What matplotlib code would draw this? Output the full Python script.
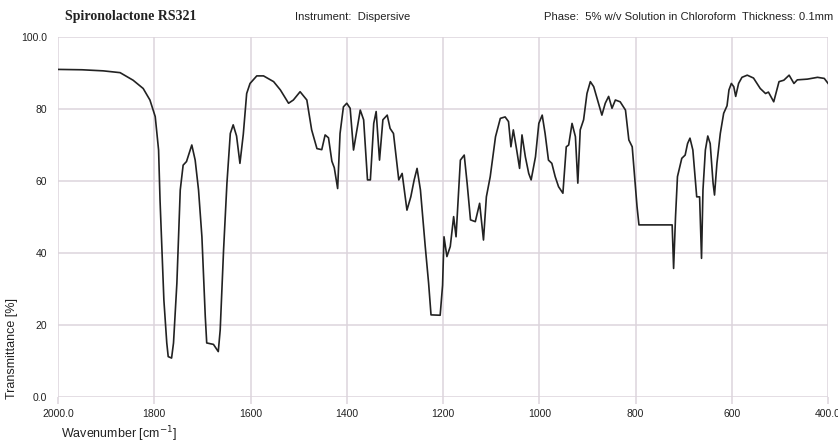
"""IR transmission spectrum of spironolactone RS321 (dispersive, CHCl3 solution)."""

import matplotlib
matplotlib.use("Agg")
import matplotlib.pyplot as plt
import numpy as np

GRID = "#dcd4dc"
INK = "#222222"

# Spectrum trace: wavenumber (cm^-1) and transmittance (%)
wavenumber = [
    2000, 1950, 1906, 1871, 1844, 1823, 1809, 1798, 1791, 1788, 1784, 1780,
    1774, 1771, 1764, 1760, 1753, 1746, 1740, 1733, 1722, 1715, 1708, 1701,
    1694, 1691, 1677, 1667, 1663, 1656, 1649, 1642, 1636, 1629, 1622, 1615,
    1608, 1601, 1587, 1573, 1552, 1538, 1521, 1511, 1497, 1483, 1473, 1462,
    1452, 1445, 1438, 1431, 1426, 1419, 1414, 1407, 1400, 1393, 1386, 1379,
    1372, 1365, 1357, 1351, 1344, 1339, 1332, 1325, 1316, 1310, 1303, 1292,
    1285, 1275, 1267, 1260, 1254, 1247, 1237, 1230, 1225, 1206, 1201, 1198,
    1192, 1185, 1178, 1173, 1164, 1156, 1150, 1143, 1133, 1124, 1116, 1110,
    1102, 1091, 1081, 1071, 1064, 1059, 1054, 1047, 1041, 1036, 1029, 1022,
    1017, 1008, 1001, 994, 988, 981, 974, 967, 960, 951, 944, 939,
    932, 925, 920, 915, 908, 901, 894, 887, 877, 870, 863, 856,
    849, 842, 832, 821, 814, 807, 802, 797, 793, 724, 721, 717,
    713, 704, 697, 692, 687, 681, 673, 667, 663, 660, 655, 650,
    645, 639, 636, 631, 624, 617, 610, 606, 601, 596, 592, 586,
    579, 568, 555, 541, 530, 524, 513, 502, 492, 481, 471, 464,
    443, 422, 408, 400,
]
transmittance = [
    91.0, 90.9, 90.6, 90.1, 88.0, 85.7, 82.5, 77.9, 68.6, 54.7, 40.8, 26.9,
    15.0, 11.2, 10.8, 15.0, 31.6, 57.5, 64.4, 65.4, 70.0, 65.8, 57.5, 44.5,
    22.3, 15.0, 14.6, 12.6, 18.6, 40.8, 59.4, 73.2, 75.6, 72.5, 64.9, 73.0,
    84.3, 87.1, 89.2, 89.2, 87.6, 85.3, 81.6, 82.5, 84.8, 82.5, 74.2, 69.0,
    68.7, 72.8, 72.0, 65.5, 63.7, 57.9, 73.2, 80.6, 81.6, 80.2, 68.6, 74.2,
    79.7, 77.0, 60.3, 60.3, 76.0, 79.3, 65.8, 77.0, 78.3, 74.6, 73.2, 60.3,
    62.1, 51.9, 55.6, 60.3, 63.5, 57.5, 41.8, 31.6, 22.8, 22.7, 31.0, 44.5,
    39.0, 41.8, 50.1, 44.5, 65.8, 67.2, 59.4, 49.2, 48.7, 53.8, 43.6, 55.6,
    61.2, 72.3, 77.4, 77.8, 76.5, 69.5, 74.2, 68.6, 63.5, 72.8, 66.7, 62.1,
    60.3, 66.7, 76.0, 78.3, 73.2, 65.8, 64.9, 61.2, 58.4, 56.6, 69.5, 70.0,
    76.0, 72.3, 59.4, 74.2, 77.0, 84.3, 87.6, 86.2, 81.6, 78.3, 81.6, 83.5,
    80.2, 82.5, 82.0, 79.7, 71.4, 69.5, 61.2, 52.9, 47.8, 47.8, 35.7, 50.1,
    61.2, 66.3, 67.2, 70.4, 71.9, 68.6, 55.6, 55.6, 38.5, 57.5, 68.6, 72.5,
    70.4, 59.4, 56.1, 64.9, 73.2, 78.8, 80.9, 85.3, 87.1, 86.2, 83.5, 87.1,
    88.8, 89.4, 88.6, 85.7, 84.3, 84.7, 82.0, 87.6, 88.0, 89.4, 87.1, 88.1,
    88.3, 88.8, 88.5, 87.1,
]

x_ticks = [2000, 1800, 1600, 1400, 1200, 1000, 800, 600, 400]
x_labels = ["2000.0", "1800", "1600", "1400", "1200", "1000", "800", "600", "400.0"]
y_ticks = [0, 20, 40, 60, 80, 100]
y_labels = ["0.0", "20", "40", "60", "80", "100.0"]

plt.rcParams.update({"font.family": ["Liberation Sans", "DejaVu Sans"], "font.size": 7.5})

fig = plt.figure(figsize=(8.38, 4.46), dpi=100)
ax = fig.add_axes([0.0692, 0.110, 0.919, 0.807])

ax.plot(wavenumber, transmittance, color=INK, linewidth=1.2, zorder=3)

ax.set_xlim(2000, 400)
ax.set_ylim(0, 100)
ax.set_xticks(x_ticks, x_labels)
ax.set_yticks(y_ticks, y_labels)
ax.grid(True, color=GRID, linewidth=1.1)
for s in ax.spines.values():
    s.set_visible(False)
ax.tick_params(axis="x", length=5, color=GRID, width=1.1, pad=4, labelcolor=INK)
ax.tick_params(axis="y", length=0, pad=8, labelcolor=INK)

ax.set_xlabel("Wavenumber [cm$^{-1}$]", fontsize=9, color=INK)
ax.xaxis.set_label_coords(0.004, -0.075)
ax.xaxis.label.set_horizontalalignment("left")
ax.set_ylabel("Transmittance [%]", fontsize=9, color=INK)
ax.yaxis.set_label_coords(-0.060, -0.005)
ax.yaxis.label.set_verticalalignment("center")
ax.yaxis.label.set_horizontalalignment("left")

fig.text(0.077, 0.962, "Spironolactone RS321", family="Liberation Serif",
         fontweight="bold", fontsize=10, color=INK, va="center")
fig.text(0.352, 0.962, "Instrument:  Dispersive", fontsize=8.1, color=INK, va="center")
fig.text(0.994, 0.962, "Phase:  5% w/v Solution in Chloroform  Thickness: 0.1mm",
         fontsize=8.1, color=INK, va="center", ha="right")

fig.savefig("out.png", dpi=100)
